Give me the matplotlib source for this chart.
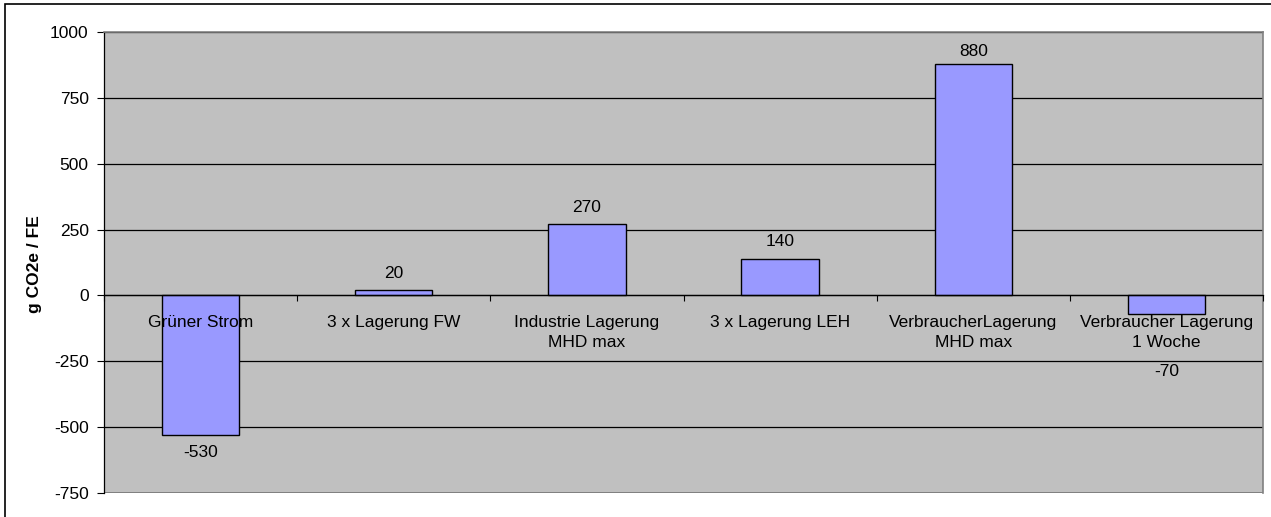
import matplotlib
matplotlib.use("Agg")
import matplotlib.pyplot as plt
from matplotlib.patches import Rectangle
from matplotlib.ticker import FixedLocator, NullFormatter

plt.rcParams['font.family'] = ['Liberation Sans', 'DejaVu Sans']
plt.rcParams['axes.unicode_minus'] = False

categories = ["Grüner Strom", "3 x Lagerung FW", "Industrie Lagerung\nMHD max",
              "3 x Lagerung LEH", "VerbraucherLagerung\nMHD max",
              "Verbraucher Lagerung\n1 Woche"]
values = [-530, 20, 270, 140, 880, -70]
label_offsets_px = [17, 17, 17, 17, 12, 58]   # distance of value labels from bar end
y_ticks = [-750, -500, -250, 0, 250, 500, 750, 1000]
y_label = "g CO2e / FE"

W, H = 1271, 517
PX = 72 / 100  # points per pixel at 100 dpi
FS = 12.5

fig = plt.figure(figsize=(W / 100, H / 100), dpi=100)
fig.patch.set_facecolor("white")

# outer chart frame
fig.patches.append(Rectangle((5 / W, -0.05), 1.2, (H - 4) / H + 0.05,
                             transform=fig.transFigure, fill=False,
                             edgecolor="black", linewidth=1.2))

ax = fig.add_axes([104 / W, 1 - 493 / H, (1263 - 104) / W, (493 - 32) / H])
ax.set_facecolor("#C0C0C0")

x = list(range(len(categories)))
ax.bar(x, values, width=0.4, color="#9999FF", edgecolor="black",
       linewidth=1.0, zorder=3)

ax.set_xlim(-0.5, len(categories) - 0.5)
ax.set_ylim(min(y_ticks), max(y_ticks))
ax.set_yticks(y_ticks)
ax.yaxis.grid(True, color="black", linewidth=0.9, zorder=1)
ax.set_axisbelow(True)
ax.tick_params(axis="y", length=5, width=0.8, pad=6, labelsize=FS,
               direction="out")

# category axis sits on the zero line, labels drawn over the bars
ax.spines["bottom"].set_position(("data", 0))
ax.spines["bottom"].set_color("black")
ax.spines["bottom"].set_linewidth(0.9)
ax.spines["bottom"].set_zorder(4)
ax.set_xticks(x)
ax.set_xticklabels(categories, fontsize=FS, linespacing=1.45)
ax.tick_params(axis="x", which="major", length=0, pad=14)
ax.xaxis.set_minor_locator(FixedLocator([i + 0.5 for i in range(-1, len(categories))]))
ax.xaxis.set_minor_formatter(NullFormatter())
ax.tick_params(axis="x", which="minor", length=4, width=0.8, direction="out")
ax.xaxis.set_zorder(5)

for s in ("top", "right"):
    ax.spines[s].set_color("#808080")
    ax.spines[s].set_linewidth(1.2)
ax.spines["left"].set_color("black")
ax.spines["left"].set_linewidth(0.9)

# bottom border of the plot area
ax.axhline(min(y_ticks), color="#808080", linewidth=1.4, zorder=2)

for xi, v, off in zip(x, values, label_offsets_px):
    sign = 1 if v >= 0 else -1
    ax.annotate(f"{v}", (xi, v), xytext=(0, sign * off * PX),
                textcoords="offset points", ha="center", va="center",
                fontsize=FS)

fig.text(35 / W, 1 - 264 / H, y_label, rotation=90, ha="center", va="center",
         fontsize=12.5, fontweight="bold")

fig.savefig("out.png", dpi=100)
